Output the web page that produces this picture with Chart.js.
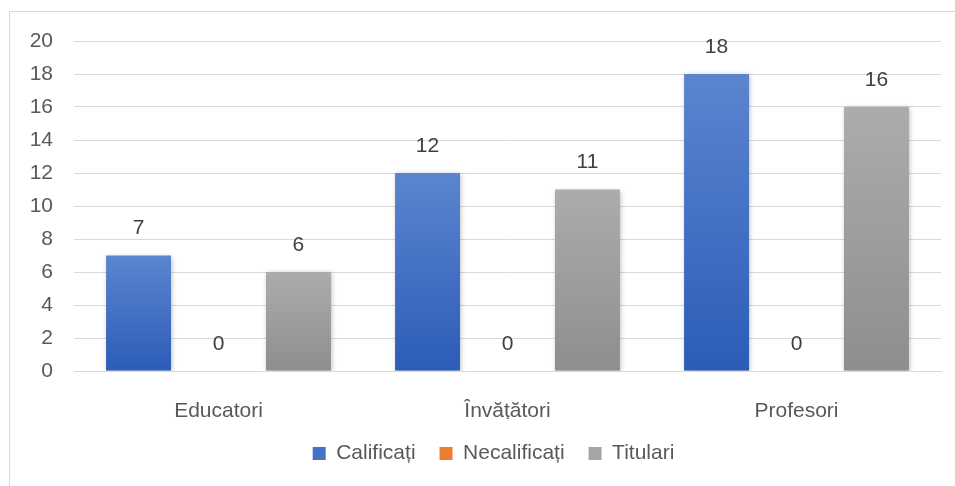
<!DOCTYPE html>
<html>
<head>
<meta charset="utf-8">
<script src="https://cdn.jsdelivr.net/npm/chart.js@4"></script>
<style>
  html, body { margin: 0; padding: 0; background: #fff; }
  #wrap { position: relative; width: 955px; height: 486px; overflow: hidden; }
  #frame {
    position: absolute; left: 9px; top: 11px; width: 1000px; height: 1000px;
    border-left: 1px solid #D9D9D9; border-top: 1px solid #D9D9D9;
  }
  canvas { position: absolute; left: 0; top: 0; }
</style>
</head>
<body>
<div id="wrap">
  <div id="frame"></div>
  <canvas id="myChart" width="955" height="486"></canvas>
</div>
<script>
const categories = ["Educatori", "Învățători", "Profesori"];
const calificati = [7, 12, 18];
const necalificati = [0, 0, 0];
const titulari = [6, 11, 16];
const yTicks = [0, 2, 4, 6, 8, 10, 12, 14, 16, 18, 20];

const FONT = "'Liberation Sans', Arial, sans-serif";

// gradient per bar, light on top and darker at the base
function barFill(topColor, bottomColor, solid) {
  return function (ctx) {
    const chart = ctx.chart;
    if (!chart.chartArea || ctx.raw === undefined) return solid;
    const y = chart.scales.y;
    const top = y.getPixelForValue(ctx.raw);
    const bottom = y.getPixelForValue(0);
    if (Math.abs(bottom - top) < 1) return solid;
    const g = chart.ctx.createLinearGradient(0, top, 0, bottom);
    g.addColorStop(0, topColor);
    g.addColorStop(1, bottomColor);
    return g;
  };
}

const barShadow = {
  id: "barShadow",
  beforeDatasetsDraw(chart) {
    const c = chart.ctx;
    c.save();
    c.shadowColor = "rgba(0,0,0,0.28)";
    c.shadowBlur = 5;
    c.shadowOffsetX = 1;
    c.shadowOffsetY = 1;
  },
  afterDatasetsDraw(chart) {
    chart.ctx.restore();
  },
};

const valueLabels = {
  id: "valueLabels",
  afterDatasetsDraw(chart) {
    const c = chart.ctx;
    c.save();
    c.font = "21px " + FONT;
    c.fillStyle = "#404040";
    c.textAlign = "center";
    c.textBaseline = "middle";
    chart.data.datasets.forEach(function (ds, i) {
      const meta = chart.getDatasetMeta(i);
      meta.data.forEach(function (bar, j) {
        c.fillText(String(ds.data[j]), bar.x, bar.y - 27);
      });
    });
    c.restore();
  },
};

// legend sits a bit right of the canvas centre in the original
const legendShift = {
  id: "legendShift",
  afterLayout(chart) {
    if (chart.legend) {
      chart.legend.left += 18;
      chart.legend.right += 18;
    }
  },
};

const solidColors = ["#4472C4", "#ED7D31", "#A5A5A5"];

const ctx = document.getElementById("myChart");
new Chart(ctx, {
  type: "bar",
  data: {
    labels: categories,
    datasets: [
      {
        label: "Calificați",
        data: calificati,
        backgroundColor: barFill("#5C85CF", "#2C5CB8", solidColors[0]),
      },
      {
        label: "Necalificați",
        data: necalificati,
        backgroundColor: barFill("#F4964E", "#E26B1C", solidColors[1]),
      },
      {
        label: "Titulari",
        data: titulari,
        backgroundColor: barFill("#ACACAC", "#8E8E8E", solidColors[2]),
      },
    ],
  },
  options: {
    responsive: false,
    animation: false,
    categoryPercentage: 0.83,
    barPercentage: 0.8125,
    layout: {
      padding: { left: 10, right: 14, top: 41, bottom: 12 },
    },
    scales: {
      x: {
        grid: { display: false },
        border: { display: true, color: "#D9D9D9", width: 1 },
        ticks: {
          padding: 20,
          color: "#595959",
          font: { family: FONT, size: 21 },
        },
        afterFit: function (scale) {
          scale.height = 48;
        },
      },
      y: {
        min: 0,
        max: 20,
        afterBuildTicks: function (scale) {
          scale.ticks = yTicks.map(function (v) { return { value: v }; });
        },
        grid: { color: "#D9D9D9", lineWidth: 1, drawTicks: false },
        border: { display: false },
        ticks: {
          padding: 21,
          color: "#595959",
          font: { family: FONT, size: 21 },
        },
        afterFit: function (scale) {
          scale.width = 64;
        },
      },
    },
    plugins: {
      tooltip: { enabled: false },
      legend: {
        position: "bottom",
        labels: {
          boxWidth: 13,
          boxHeight: 13,
          padding: 24,
          color: "#595959",
          font: { family: FONT, size: 21 },
          generateLabels: function (chart) {
            return chart.data.datasets.map(function (ds, i) {
              return {
                text: ds.label,
                fillStyle: solidColors[i],
                strokeStyle: solidColors[i],
                lineWidth: 0,
                fontColor: "#595959",
                datasetIndex: i,
                hidden: false,
              };
            });
          },
        },
      },
    },
  },
  plugins: [barShadow, valueLabels, legendShift],
});
</script>
</body>
</html>
